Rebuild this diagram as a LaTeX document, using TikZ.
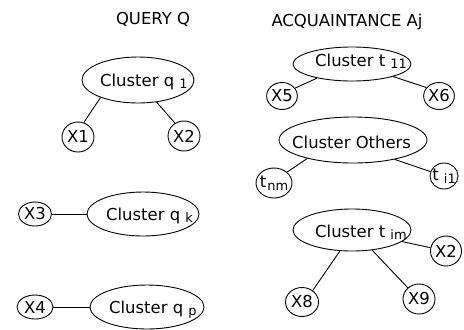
\documentclass[tikz,border=0pt]{standalone}
\usepackage{fontspec}
\setmainfont{DejaVu Sans}
\usetikzlibrary{shapes.geometric}
\newcommand{\sbx}[1]{\raisebox{-2.5bp}{\fontsize{13}{15}\selectfont #1}}
\begin{document}
\begin{tikzpicture}[x=1bp,y=-1bp,
  bubble/.style={draw, ellipse, inner sep=0pt, line width=0.9bp},
  lbl/.style={inner sep=0pt, font=\fontsize{16.5}{19}\selectfont},
  link/.style={line width=0.9bp}]
\useasboundingbox (0,0) rectangle (464,329);
% titles
\node[lbl, anchor=base] (tq) at (153,24) {QUERY Q};
\node[lbl, anchor=base] (ta) at (347,26) {ACQUAINTANCE Aj};
% cluster ellipses
\node[bubble, minimum width=112bp, minimum height=46bp] (q1) at (138,80) {};
\node[bubble, minimum width=112bp, minimum height=44bp] (qk) at (143,214) {};
\node[bubble, minimum width=114bp, minimum height=44bp] (qp) at (147,307) {};
\node[bubble, minimum width=118bp, minimum height=34bp] (t11) at (352,64) {};
\node[bubble, minimum width=148bp, minimum height=46bp] (oth) at (353,140) {};
\node[bubble, minimum width=118bp, minimum height=42bp] (tim) at (352,230) {};
% cluster texts
\node[lbl, anchor=base west] (q1t) at (100,86) {Cluster q \sbx{1}};
\node[lbl, anchor=base west] (qkt) at (106,220) {Cluster q \sbx{k}};
\node[lbl, anchor=base west] (qpt) at (109,313) {Cluster q \sbx{p}};
\node[lbl, anchor=base west] (t11t) at (315,66) {Cluster t \sbx{11}};
\node[lbl, anchor=base west] (otht) at (292,148) {Cluster Others};
\node[lbl, anchor=base west] (timt) at (315,237) {Cluster t \sbx{im}};
% small nodes
\node[bubble, lbl, minimum width=32bp, minimum height=30bp] (x1) at (78,137) {X1};
\node[bubble, lbl, minimum width=32bp, minimum height=30bp] (x2) at (184,136) {X2};
\node[bubble, lbl, minimum width=33bp, minimum height=24bp] (x3) at (35,214) {X3};
\node[bubble, lbl, minimum width=36bp, minimum height=24bp] (x4) at (35,307) {X4};
\node[bubble, lbl, minimum width=30bp, minimum height=27bp] (x5) at (282,96) {X5};
\node[bubble, lbl, minimum width=29bp, minimum height=27bp] (x6) at (439,96) {X6};
\node[bubble, lbl, minimum width=36bp, minimum height=30bp] (tnm) at (274,183) {\makebox[20bp]{t\kern1bp\sbx{nm}}};
\node[bubble, lbl, minimum width=28bp, minimum height=26bp] (ti1) at (444,176) {\makebox[16bp]{t \sbx{i1}}};
\node[bubble, lbl, minimum width=31bp, minimum height=30bp] (x2b) at (446,251) {X2};
\node[bubble, lbl, minimum width=33bp, minimum height=29bp] (x8) at (302,302) {X8};
\node[bubble, lbl, minimum width=32bp, minimum height=30bp] (x9) at (419,299) {X9};
% connectors
\draw[link] (q1.205) -- (x1.68);
\draw[link] (q1.-50) -- (x2.125);
\draw[link] (x3.east) -- (qk.west);
\draw[link] (x4.east) -- (qp.west);
\draw[link] (t11.202) -- (x5.31);
\draw[link] (t11.-17) -- (x6.146);
\draw[link] (oth.202) -- (tnm.40);
\draw[link] (oth.-25) -- (ti1.162);
\draw[link] (tim.-13) -- (x2b.168);
\draw[link] (tim.-120) -- (x8.47);
\draw[link] (tim.-45) -- (x9.135);
\end{tikzpicture}
\end{document}
